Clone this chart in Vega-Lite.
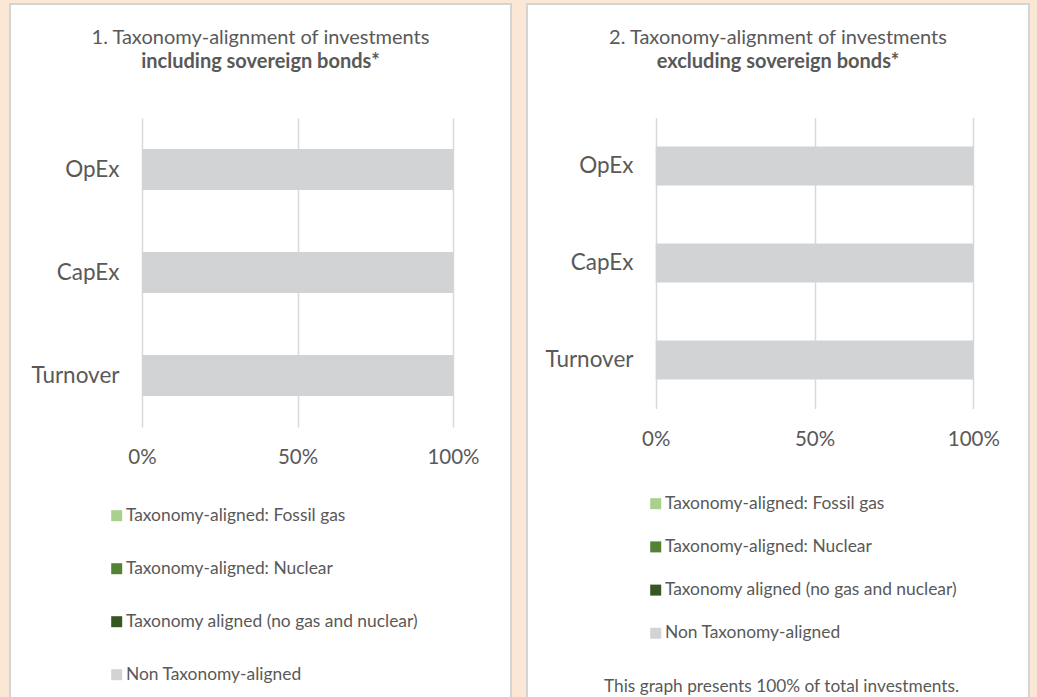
{
  "$schema": "https://vega.github.io/schema/vega-lite/v6.json",
  "background": "#FBE7D6",
  "padding": {"left": 9, "top": 3, "right": 8, "bottom": 0},
  "autosize": {"type": "pad"},
  "datasets": {
    "incl": [
      {"metric": "OpEx", "series": "Taxonomy-aligned: Fossil gas", "share": 0},
      {"metric": "OpEx", "series": "Taxonomy-aligned: Nuclear", "share": 0},
      {"metric": "OpEx", "series": "Taxonomy aligned (no gas and nuclear)", "share": 0},
      {"metric": "OpEx", "series": "Non Taxonomy-aligned", "share": 1},
      {"metric": "CapEx", "series": "Taxonomy-aligned: Fossil gas", "share": 0},
      {"metric": "CapEx", "series": "Taxonomy-aligned: Nuclear", "share": 0},
      {"metric": "CapEx", "series": "Taxonomy aligned (no gas and nuclear)", "share": 0},
      {"metric": "CapEx", "series": "Non Taxonomy-aligned", "share": 1},
      {"metric": "Turnover", "series": "Taxonomy-aligned: Fossil gas", "share": 0},
      {"metric": "Turnover", "series": "Taxonomy-aligned: Nuclear", "share": 0},
      {"metric": "Turnover", "series": "Taxonomy aligned (no gas and nuclear)", "share": 0},
      {"metric": "Turnover", "series": "Non Taxonomy-aligned", "share": 1}
    ],
    "excl": [
      {"metric": "OpEx", "series": "Taxonomy-aligned: Fossil gas", "share": 0},
      {"metric": "OpEx", "series": "Taxonomy-aligned: Nuclear", "share": 0},
      {"metric": "OpEx", "series": "Taxonomy aligned (no gas and nuclear)", "share": 0},
      {"metric": "OpEx", "series": "Non Taxonomy-aligned", "share": 1},
      {"metric": "CapEx", "series": "Taxonomy-aligned: Fossil gas", "share": 0},
      {"metric": "CapEx", "series": "Taxonomy-aligned: Nuclear", "share": 0},
      {"metric": "CapEx", "series": "Taxonomy aligned (no gas and nuclear)", "share": 0},
      {"metric": "CapEx", "series": "Non Taxonomy-aligned", "share": 1},
      {"metric": "Turnover", "series": "Taxonomy-aligned: Fossil gas", "share": 0},
      {"metric": "Turnover", "series": "Taxonomy-aligned: Nuclear", "share": 0},
      {"metric": "Turnover", "series": "Taxonomy aligned (no gas and nuclear)", "share": 0},
      {"metric": "Turnover", "series": "Non Taxonomy-aligned", "share": 1}
    ]
  },
  "spacing": 14,
  "hconcat": [
    {
      "width": 501,
      "height": 700,
      "title": {
        "text": "1. Taxonomy-alignment of investments",
        "subtitle": "including sovereign bonds*",
        "anchor": "middle", "frame": "group", "offset": -67.5,
        "font": "Lato", "fontSize": 20, "fontWeight": "normal", "color": "#595959",
        "subtitleFont": "Lato", "subtitleFontSize": 20, "subtitleFontWeight": "bold", "subtitleColor": "#595959", "subtitlePadding": 4
      },
      "data": {"name": "incl"},
      "mark": {"type": "bar"},
      "encoding": {
        "y": {
          "field": "metric", "type": "nominal", "sort": ["OpEx", "CapEx", "Turnover"],
          "scale": {"range": [114, 423], "paddingInner": 0.6, "paddingOuter": 0.3},
          "axis": {"orient": "left", "offset": -109, "title": null, "domain": false, "ticks": false, "tickSize": 0, "labelPadding": 0,
                   "labelFontSize": 22.5, "labelColor": "#595959", "labelAlign": "right", "labelBaseline": "middle"}
        },
        "x": {
          "field": "share", "type": "quantitative", "stack": "zero",
          "scale": {"domain": [0, 1], "range": [132, 443], "nice": false},
          "axis": {"orient": "bottom", "offset": -277, "values": [0, 0.5, 1], "format": ".0%", "grid": false, "domain": false,
                   "ticks": true, "tickSize": -309, "tickColor": "#D9D9D9", "tickWidth": 1.5,
                   "labelPadding": 339.5, "labelBaseline": "middle", "labelFlush": false, "labelOverlap": false,
                   "labelFontSize": 20.5, "labelColor": "#595959", "title": null, "zindex": 0}
        },
        "color": {
          "field": "series", "type": "nominal",
          "scale": {
            "domain": ["Taxonomy-aligned: Fossil gas", "Taxonomy-aligned: Nuclear", "Taxonomy aligned (no gas and nuclear)", "Non Taxonomy-aligned"],
            "range": ["#A9D18E", "#548235", "#375623", "#D2D3D5"]
          },
          "legend": {"orient": "none", "legendX": 98, "legendY": 503, "title": null, "symbolType": "square", "symbolSize": 121,
                     "symbolStrokeWidth": 0, "labelFontSize": 17.4, "labelLimit": 0, "labelColor": "#595959", "rowPadding": 34, "labelOffset": 0.5, "padding": 0}
        }
      }
    },
    {
      "width": 502,
      "height": 700,
      "title": {
        "text": "2. Taxonomy-alignment of investments",
        "subtitle": "excluding sovereign bonds*",
        "anchor": "middle", "frame": "group", "offset": -67.5,
        "font": "Lato", "fontSize": 20, "fontWeight": "normal", "color": "#595959",
        "subtitleFont": "Lato", "subtitleFontSize": 20, "subtitleFontWeight": "bold", "subtitleColor": "#595959", "subtitlePadding": 4
      },
      "data": {"name": "excl"},
      "mark": {"type": "bar"},
      "encoding": {
        "y": {
          "field": "metric", "type": "nominal", "sort": ["OpEx", "CapEx", "Turnover"],
          "scale": {"range": [113.5, 404.5], "paddingInner": 0.6, "paddingOuter": 0.3},
          "axis": {"orient": "left", "offset": -106, "title": null, "domain": false, "ticks": false, "tickSize": 0, "labelPadding": 0,
                   "labelFontSize": 22.5, "labelColor": "#595959", "labelAlign": "right", "labelBaseline": "middle"}
        },
        "x": {
          "field": "share", "type": "quantitative", "stack": "zero",
          "scale": {"domain": [0, 1], "range": [128.7, 446.3], "nice": false},
          "axis": {"orient": "bottom", "offset": -295.5, "values": [0, 0.5, 1], "format": ".0%", "grid": false, "domain": false,
                   "ticks": true, "tickSize": -291, "tickColor": "#D9D9D9", "tickWidth": 1.5,
                   "labelPadding": 321.5, "labelBaseline": "middle", "labelFlush": false, "labelOverlap": false,
                   "labelFontSize": 20.5, "labelColor": "#595959",
                   "title": "This graph presents 100% of total investments.", "titleX": 254, "titleY": 277.5,
                   "titleAlign": "center", "titleBaseline": "middle", "titleFontSize": 17.3, "titleFontWeight": "normal",
                   "titleColor": "#595959", "titleFont": "Lato", "zindex": 0}
        },
        "color": {
          "field": "series", "type": "nominal",
          "scale": {
            "domain": ["Taxonomy-aligned: Fossil gas", "Taxonomy-aligned: Nuclear", "Taxonomy aligned (no gas and nuclear)", "Non Taxonomy-aligned"],
            "range": ["#A9D18E", "#548235", "#375623", "#D2D3D5"]
          },
          "legend": {"orient": "none", "legendX": 120, "legendY": 491, "title": null, "symbolType": "square", "symbolSize": 121,
                     "symbolStrokeWidth": 0, "labelFontSize": 17.4, "labelLimit": 0, "labelColor": "#595959", "rowPadding": 24.2, "labelOffset": 0.5, "padding": 0}
        }
      }
    }
  ],
  "resolve": {
    "scale": {"x": "independent", "y": "independent", "color": "independent"},
    "legend": {"color": "independent"}
  },
  "config": {
    "font": "Lato",
    "view": {"fill": "white", "stroke": "#D4D4D4", "strokeWidth": 2},
    "axis": {"labelFont": "Lato", "titleFont": "Lato"},
    "legend": {"labelFont": "Lato"}
  }
}
